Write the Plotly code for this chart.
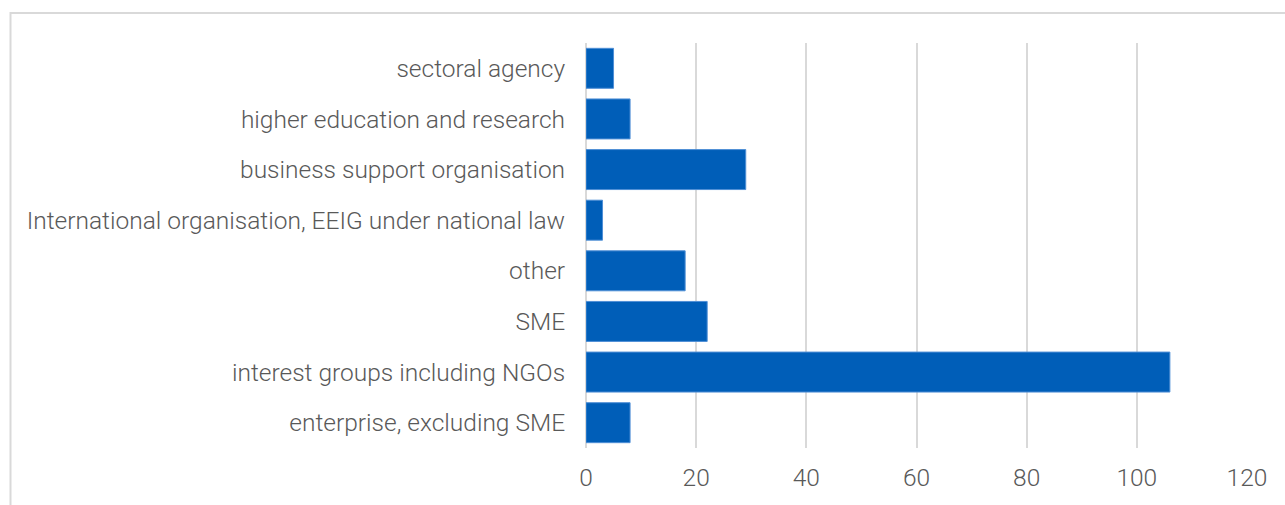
import plotly.graph_objects as go

categories = [
    "enterprise, excluding SME",
    "interest groups including NGOs",
    "SME",
    "other",
    "International organisation, EEIG under national law",
    "business support organisation",
    "higher education and research",
    "sectoral agency",
]
counts = [8, 106, 22, 18, 3, 29, 8, 5]
x_ticks = [0, 20, 40, 60, 80, 100, 120]

W, H = 1285, 505
L, R, T, B = 586, 38, 43, 57
pw, ph = W - L - R, H - T - B

label_font = dict(family="Roboto, Arial, sans-serif", size=24.5, color="#595959", weight=300)

fig = go.Figure(
    go.Bar(
        x=counts,
        y=categories,
        orientation="h",
        marker=dict(color="#005EB8", line=dict(color="#4F8FD6", width=1)),
        hoverinfo="x+y",
    )
)

# light grey frame around the chart area (top and left edges visible)
fig.add_shape(
    type="rect",
    xref="paper", yref="paper",
    x0=(10.5 - L) / pw, x1=(W + 20 - L) / pw,
    y0=-(B + 20) / ph, y1=1 + (T - 13) / ph,
    line=dict(color="#D9D9D9", width=2),
    layer="below",
)

fig.update_layout(
    width=W, height=H,
    margin=dict(l=L, r=R, t=T, b=B),
    paper_bgcolor="white",
    plot_bgcolor="white",
    bargap=0.21,
    showlegend=False,
    font=label_font,
    xaxis=dict(
        range=[0, 120],
        tickvals=x_ticks,
        showgrid=True,
        gridcolor="#D9D9D9",
        gridwidth=1.5,
        zeroline=True,
        zerolinecolor="#D9D9D9",
        zerolinewidth=1.5,
        showline=False,
        ticks="outside",
        ticklen=8,
        tickcolor="rgba(0,0,0,0)",
        tickfont=label_font,
        fixedrange=True,
    ),
    yaxis=dict(
        categoryorder="array",
        categoryarray=categories,
        showgrid=False,
        showline=False,
        ticks="outside",
        ticklen=15,
        tickcolor="rgba(0,0,0,0)",
        tickfont=label_font,
        fixedrange=True,
    ),
)

fig.write_html("out.html")
